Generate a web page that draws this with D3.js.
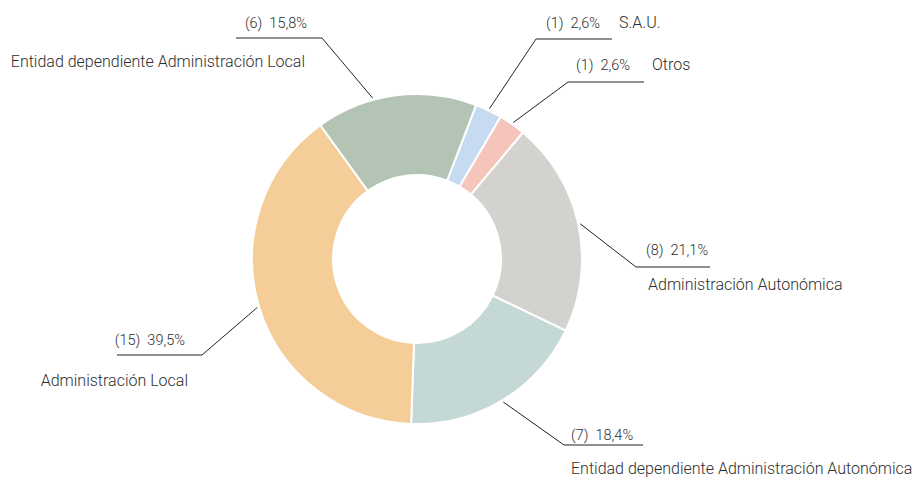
<!DOCTYPE html>
<html><head><meta charset="utf-8">
<script src="https://cdn.jsdelivr.net/npm/d3@7"></script>
<style>
body{margin:0;background:#fff}
svg{display:block}
text{font-family:Roboto,"Noto Sans",sans-serif;font-weight:300;fill:#2e2e2e;white-space:pre}
</style>
</head><body>
<svg id="chart" width="916" height="479"></svg>
<script>
// ---- data ----
const categories = ["S.A.U.", "Otros", "Administración Autonómica", "Entidad dependiente Administración Autonómica", "Administración Local", "Entidad dependiente Administración Local"];
const counts = [1, 1, 8, 7, 15, 6];
const percentLabels = ["2,6%", "2,6%", "21,1%", "18,4%", "39,5%", "15,8%"];

// ---- styles / layout ----
const colors = ["#c6dbf1", "#f5c4ba", "#d4d2ce", "#c4d9d6", "#f4cd98", "#b3c4b5"];
const labelLayout = [
  {elbow:[536,39],  end:612, anchor:"start", numX:546, numY:28,  nameX:619, nameY:28},
  {elbow:[568,82],  end:644, anchor:"start", numX:576, numY:70,  nameX:652, nameY:70},
  {elbow:[636,267], end:710, anchor:"start", numX:646, numY:255, nameX:648, nameY:290},
  {elbow:[564,445], end:643, anchor:"start", numX:571, numY:440, nameX:571, nameY:474},
  {elbow:[202,355], end:117, anchor:"end",   numX:185, numY:345, nameX:188, nameY:386},
  {elbow:[322,38],  end:236, anchor:"end",   numX:307, numY:28,  nameX:305, nameY:67, angleShift:-8}
];

const cx = 417, cy = 259, rOuter = 165, rInner = 84;
const svg = d3.select("#chart");
const g = svg.append("g").attr("transform", `translate(${cx},${cy})`);

const startAngle = 21 * Math.PI / 180;
const pie = d3.pie().sort(null).value(d => d.count)
  .startAngle(startAngle).endAngle(startAngle + 2 * Math.PI);
const data = categories.map((c, i) => ({name: c, count: counts[i], pct: percentLabels[i], i}));
const arcs = pie(data);
const arc = d3.arc().innerRadius(rInner).outerRadius(rOuter);

g.selectAll("path.slice").data(arcs).join("path")
  .attr("class", "slice")
  .attr("d", arc)
  .attr("fill", d => colors[d.data.i])
  .attr("stroke", "#fff")
  .attr("stroke-width", 2);

// leader lines & labels
const lab = svg.append("g");
arcs.forEach(a => {
  const L = labelLayout[a.data.i];
  const mid = (a.startAngle + a.endAngle) / 2 + (L.angleShift || 0) * Math.PI / 180;
  const r = rOuter + 2;
  const sx = cx + r * Math.sin(mid), sy = cy - r * Math.cos(mid);
  lab.append("polyline")
    .attr("points", [[sx, sy], L.elbow, [L.end, L.elbow[1]]].map(p => p.join(",")).join(" "))
    .attr("fill", "none")
    .attr("stroke", "#222")
    .attr("stroke-width", 1);
  lab.append("text")
    .attr("x", L.numX).attr("y", L.numY)
    .attr("text-anchor", L.anchor)
    .attr("font-size", 14.5)
    .text(`(${a.data.count})  ${a.data.pct}`);
  lab.append("text")
    .attr("x", L.nameX).attr("y", L.nameY)
    .attr("text-anchor", L.anchor)
    .attr("font-size", 16)
    .text(a.data.name);
});
</script>
</body></html>
